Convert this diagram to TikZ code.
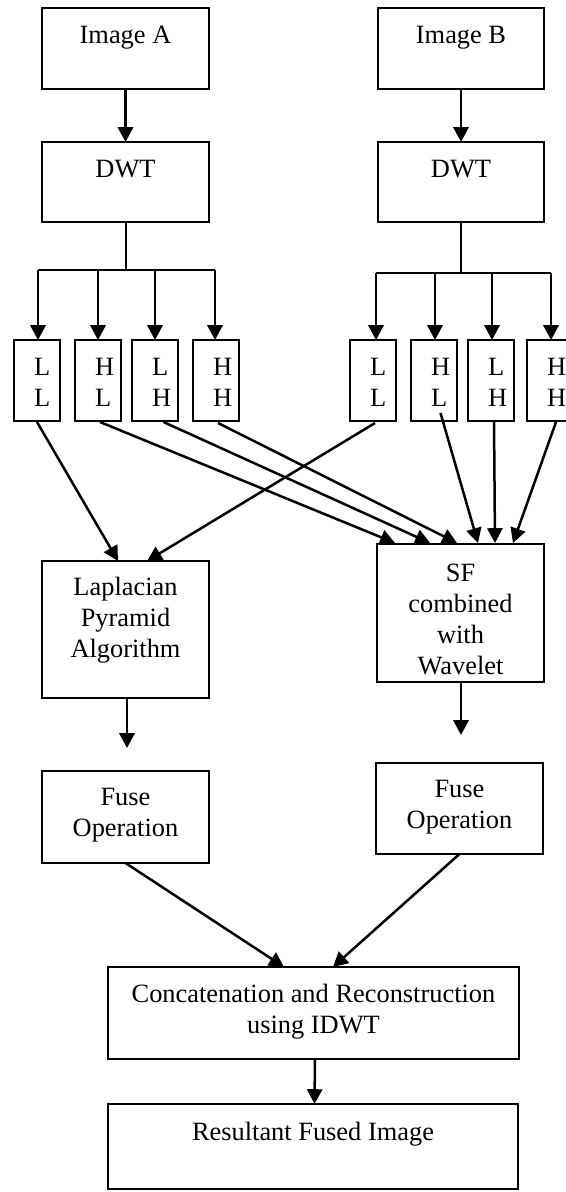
\documentclass[tikz,border=0pt]{standalone}
\usepackage{fontspec}
\setmainfont{Liberation Serif}
\usetikzlibrary{arrows.meta,calc}
\newcommand\boxtxt[4]{\parbox[t][#2pt][t]{#1pt}{\centering\rule{0pt}{#3pt}#4}}
\newcommand\subtxt[2]{\parbox[t][40.5pt][t]{23pt}{\leftskip=10pt\relax\rule{0pt}{17.5pt}#1\\#2}}
\tikzset{
  box/.style={draw, line width=1pt, inner sep=0pt, outer sep=0pt, anchor=north west,
    font=\fontsize{13.2pt}{15.5pt}\selectfont},
  arr/.style={line width=1.25pt, -{Triangle[width=7.6pt,length=7.4pt]}},
  bus/.style={line width=1pt},
}
\begin{document}
\begin{tikzpicture}[x=0.5pt,y=-0.5pt]
\useasboundingbox (0,0) rectangle (566,1192);
% top boxes
\node[box] (imA) at (42,8) {\boxtxt{83.5}{40.5}{18}{Image A}};
\node[box] (imB) at (378,8) {\boxtxt{83}{40.5}{18}{Image B}};
\node[box] (dwtA) at (42,142) {\boxtxt{83.5}{40}{18}{DWT}};
\node[box] (dwtB) at (378,142) {\boxtxt{83}{40}{18}{DWT}};
\draw[arr] (imA.south) -- (dwtA.north);
\draw[arr] (imB.south) -- (dwtB.north);
% sub-band boxes
\node[box] (llA) at (14,340) {\subtxt{L}{L}};
\node[box] (hlA) at (75,340) {\subtxt{H}{L}};
\node[box] (lhA) at (132,340) {\subtxt{L}{H}};
\node[box] (hhA) at (193,340) {\subtxt{H}{H}};
\node[box] (llB) at (350,340) {\subtxt{L}{L}};
\node[box] (hlB) at (411,340) {\subtxt{H}{L}};
\node[box] (lhB) at (468,340) {\subtxt{L}{H}};
\node[box] (hhB) at (527,340) {\subtxt{H}{H}};
% bus A
\coordinate (bA1) at (38,270);
\coordinate (bA2) at (98,270);
\coordinate (bA3) at (155,270);
\coordinate (bA4) at (215,270);
\draw[bus] (dwtA.south) -- (dwtA.south |- bA1);
\draw[bus] (bA1) -- (bA4);
\draw[arr] (bA1) -- (bA1 |- llA.north);
\draw[arr] (bA2) -- (bA2 |- hlA.north);
\draw[arr] (bA3) -- (bA3 |- lhA.north);
\draw[arr] (bA4) -- (bA4 |- hhA.north);
% bus B
\coordinate (bB1) at (376,273);
\coordinate (bB2) at (435,273);
\coordinate (bB3) at (492,273);
\coordinate (bB4) at (551,273);
\draw[line width=0.8pt] (dwtB.south) -- (dwtB.south |- bB1);
\draw[bus] (bB1) -- (bB4);
\draw[arr] (bB1) -- (bB1 |- llB.north);
\draw[arr] (bB2) -- (bB2 |- hlB.north);
\draw[arr] (bB3) -- (bB3 |- lhB.north);
\draw[arr] (bB4) -- (bB4 |- hhB.north);
% middle boxes
\node[box] (lap) at (42,561) {\boxtxt{83.5}{68.5}{17}{Laplacian\\Pyramid\\Algorithm}};
\node[box] (sf) at (377,544) {\boxtxt{83.5}{69}{18.5}{SF\\combined\\with\\Wavelet}};
\draw[arr] ($(llA.south)+(0,1)$) -- ($(lap.north)+(-7.5,0)$);
\draw[arr] ($(llB.south)+(2,2)$) -- ($(lap.north)+(21.5,0)$);
\draw[arr] ($(hlA.south)+(2,1)$) -- ($(sf.north)+(-65.5,-1)$);
\draw[arr] ($(lhA.south)+(8.5,1)$) -- ($(sf.north)+(-30.5,-1)$);
\draw[arr] ($(hhA.south)+(2,2)$) -- ($(sf.north)+(-3.5,-1)$);
\draw[arr] ($(hlB.south)+(6.5,-8)$) -- ($(sf.north)+(17.5,-1)$);
\draw[arr] ($(lhB.south)+(3,0)$) -- ($(sf.north)+(34.5,-1)$);
\draw[arr] ($(hhB.south)+(6,1)$) -- ($(sf.north)+(52.5,-1)$);
% fuse boxes
\node[box] (fuA) at (42,771) {\boxtxt{83.5}{46}{17}{Fuse\\Operation}};
\node[box] (fuB) at (376,763) {\boxtxt{83.5}{45.5}{17}{Fuse\\Operation}};
\coordinate (lapEnd) at (127,748);
\coordinate (sfEnd) at (461,735);
\draw[arr] (lapEnd |- lap.south) -- (lapEnd);
\draw[arr] (sfEnd |- sf.south) -- (sfEnd);
% bottom
\node[box] (cat) at (108,967) {\boxtxt{205.5}{46}{17.5}{Concatenation and Reconstruction\\using IDWT}};
\node[box] (res) at (108,1104) {\boxtxt{205}{42.5}{18}{Resultant Fused Image}};
\draw[arr] (fuA.south) -- ($(cat.north)+(-29.5,0)$);
\draw[arr] (fuB.south) -- ($(cat.north)+(19.5,0)$);
\draw[arr] ($(cat.south)+(1.5,0)$) -- ($(res.north)+(1.5,0)$);
\end{tikzpicture}
\end{document}
